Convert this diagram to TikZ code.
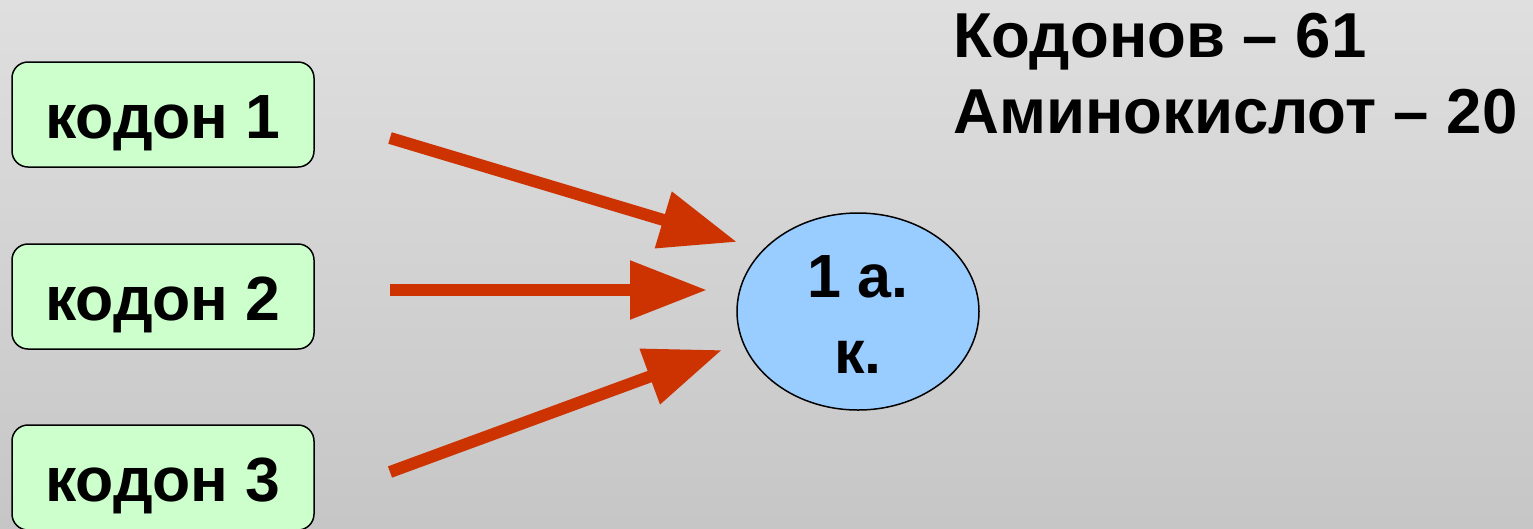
\documentclass[tikz,border=0pt]{standalone}
\usepackage{fontspec}
\setmainfont{Liberation Sans}
\usetikzlibrary{arrows.meta,shapes.geometric}
\definecolor{bgtop}{HTML}{DFDFDF}
\definecolor{bgbot}{HTML}{C6C6C6}
\definecolor{boxfill}{HTML}{CCFFCC}
\definecolor{ellfill}{HTML}{99CCFF}
\definecolor{arrred}{HTML}{CC3300}
\tikzset{
  codonbox/.style={draw=black, line width=1.5pt, fill=boxfill, rounded corners=16pt,
    minimum width=302pt, minimum height=105pt, inner sep=0pt,
    text height=47pt, text depth=0pt,
    font=\fontsize{62.5}{70}\selectfont\bfseries},
  bigtxt/.style={font=\fontsize{61}{70}\selectfont\bfseries, inner sep=0pt},
  toptxt/.style={font=\fontsize{63.5}{70}\selectfont\bfseries, inner sep=0pt},
  redarrow/.style={draw=arrred, line width=12pt,
    -{Triangle[length=77pt,width=56pt]}}
}
\begin{document}
\begin{tikzpicture}[x=1pt,y=-1pt]
\useasboundingbox (0,0) rectangle (1533,528);
\clip (0,0) rectangle (1533,528);
\shade[top color=bgtop, bottom color=bgbot] (0,0) rectangle (1533,528);

\node[codonbox] (k1) at (163,114.5) {кодон 1};
\node[codonbox] (k2) at (163,296.5) {кодон 2};
\node[codonbox] (k3) at (163,477.5) {кодон 3};

\node[ellipse, draw=black, line width=1.5pt, fill=ellfill,
  minimum width=242pt, minimum height=197pt, inner sep=0pt] (aa) at (858,311.5) {};
\node[bigtxt, anchor=base] (aa1) at (858,297) {1 а.};
\node[bigtxt, anchor=base] (aa2) at (858,373) {к.};

\node[toptxt, anchor=base west] (t1) at (953,57) {Кодонов – 61};
\node[toptxt, anchor=base west] (t2) at (953,133) {Аминокислот – 20};

\coordinate (s1) at (390,138);
\coordinate (e1) at (737,242);
\coordinate (s2) at (390,290);
\coordinate (e2) at (707,290);
\coordinate (s3) at (390,472);
\coordinate (e3) at (722,350);
\draw[redarrow] (s1) -- (e1);
\draw[redarrow] (s2) -- (e2);
\draw[redarrow] (s3) -- (e3);
\end{tikzpicture}
\end{document}
